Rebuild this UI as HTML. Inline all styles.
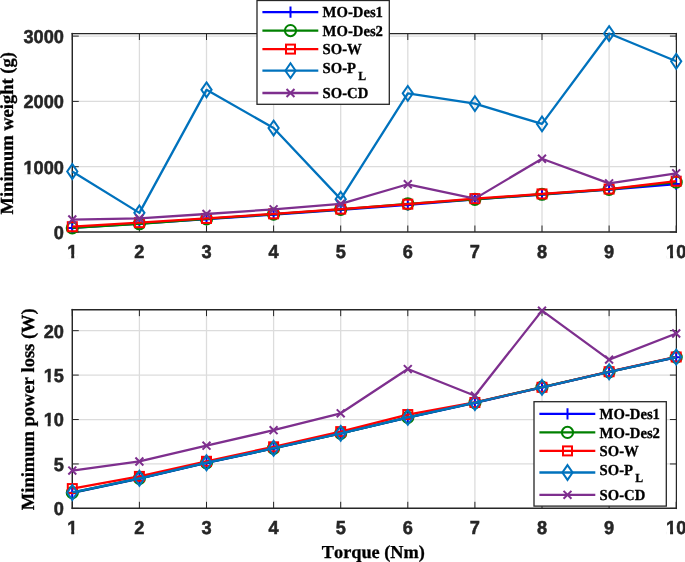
<!DOCTYPE html>
<html><head><meta charset="utf-8"><style>
html,body{margin:0;padding:0;background:#fff;width:685px;height:562px;overflow:hidden}
svg{display:block;text-rendering:geometricPrecision;font-kerning:none;will-change:transform}
.tk{font-family:"Liberation Sans",sans-serif;font-weight:bold;font-size:18.2px;fill:#262626;stroke:#262626;stroke-width:0.5px}
.lg{font-family:"Liberation Serif",serif;font-weight:bold;font-size:14.7px;fill:#000;stroke:#000;stroke-width:0.3px}
.sub{font-size:11.8px}
.al{font-family:"Liberation Serif",serif;font-weight:bold;fill:#000;stroke:#000;stroke-width:0.3px}
</style></head><body>
<svg width="685" height="562" viewBox="0 0 685 562">
<rect width="685" height="562" fill="#fff"/>
<line x1="139.4" y1="33.5" x2="139.4" y2="232.0" stroke="#DCDCDC" stroke-width="1.3"/>
<line x1="206.5" y1="33.5" x2="206.5" y2="232.0" stroke="#DCDCDC" stroke-width="1.3"/>
<line x1="273.6" y1="33.5" x2="273.6" y2="232.0" stroke="#DCDCDC" stroke-width="1.3"/>
<line x1="340.7" y1="33.5" x2="340.7" y2="232.0" stroke="#DCDCDC" stroke-width="1.3"/>
<line x1="407.8" y1="33.5" x2="407.8" y2="232.0" stroke="#DCDCDC" stroke-width="1.3"/>
<line x1="474.9" y1="33.5" x2="474.9" y2="232.0" stroke="#DCDCDC" stroke-width="1.3"/>
<line x1="542" y1="33.5" x2="542" y2="232.0" stroke="#DCDCDC" stroke-width="1.3"/>
<line x1="609.1" y1="33.5" x2="609.1" y2="232.0" stroke="#DCDCDC" stroke-width="1.3"/>
<line x1="72.28" y1="166.7" x2="676.4" y2="166.7" stroke="#DCDCDC" stroke-width="1.3"/>
<line x1="72.28" y1="101.4" x2="676.4" y2="101.4" stroke="#DCDCDC" stroke-width="1.3"/>
<line x1="72.28" y1="36.1" x2="676.4" y2="36.1" stroke="#DCDCDC" stroke-width="1.3"/>
<line x1="72.3" y1="232.0" x2="72.3" y2="225.5" stroke="#262626" stroke-width="1"/>
<line x1="72.3" y1="33.5" x2="72.3" y2="40" stroke="#262626" stroke-width="1"/>
<line x1="139.4" y1="232.0" x2="139.4" y2="225.5" stroke="#262626" stroke-width="1"/>
<line x1="139.4" y1="33.5" x2="139.4" y2="40" stroke="#262626" stroke-width="1"/>
<line x1="206.5" y1="232.0" x2="206.5" y2="225.5" stroke="#262626" stroke-width="1"/>
<line x1="206.5" y1="33.5" x2="206.5" y2="40" stroke="#262626" stroke-width="1"/>
<line x1="273.6" y1="232.0" x2="273.6" y2="225.5" stroke="#262626" stroke-width="1"/>
<line x1="273.6" y1="33.5" x2="273.6" y2="40" stroke="#262626" stroke-width="1"/>
<line x1="340.7" y1="232.0" x2="340.7" y2="225.5" stroke="#262626" stroke-width="1"/>
<line x1="340.7" y1="33.5" x2="340.7" y2="40" stroke="#262626" stroke-width="1"/>
<line x1="407.8" y1="232.0" x2="407.8" y2="225.5" stroke="#262626" stroke-width="1"/>
<line x1="407.8" y1="33.5" x2="407.8" y2="40" stroke="#262626" stroke-width="1"/>
<line x1="474.9" y1="232.0" x2="474.9" y2="225.5" stroke="#262626" stroke-width="1"/>
<line x1="474.9" y1="33.5" x2="474.9" y2="40" stroke="#262626" stroke-width="1"/>
<line x1="542" y1="232.0" x2="542" y2="225.5" stroke="#262626" stroke-width="1"/>
<line x1="542" y1="33.5" x2="542" y2="40" stroke="#262626" stroke-width="1"/>
<line x1="609.1" y1="232.0" x2="609.1" y2="225.5" stroke="#262626" stroke-width="1"/>
<line x1="609.1" y1="33.5" x2="609.1" y2="40" stroke="#262626" stroke-width="1"/>
<line x1="676.2" y1="232.0" x2="676.2" y2="225.5" stroke="#262626" stroke-width="1"/>
<line x1="676.2" y1="33.5" x2="676.2" y2="40" stroke="#262626" stroke-width="1"/>
<line x1="72.28" y1="232" x2="78.78" y2="232" stroke="#262626" stroke-width="1"/>
<line x1="676.4" y1="232" x2="669.9" y2="232" stroke="#262626" stroke-width="1"/>
<line x1="72.28" y1="166.7" x2="78.78" y2="166.7" stroke="#262626" stroke-width="1"/>
<line x1="676.4" y1="166.7" x2="669.9" y2="166.7" stroke="#262626" stroke-width="1"/>
<line x1="72.28" y1="101.4" x2="78.78" y2="101.4" stroke="#262626" stroke-width="1"/>
<line x1="676.4" y1="101.4" x2="669.9" y2="101.4" stroke="#262626" stroke-width="1"/>
<line x1="72.28" y1="36.1" x2="78.78" y2="36.1" stroke="#262626" stroke-width="1"/>
<line x1="676.4" y1="36.1" x2="669.9" y2="36.1" stroke="#262626" stroke-width="1"/>
<path d="M72.28 32.88V232.8" stroke="#262626" stroke-width="1.45" fill="none"/>
<path d="M676.4 32.88V232.8" stroke="#262626" stroke-width="1.25" fill="none"/>
<path d="M71.56 33.5H677.02" stroke="#262626" stroke-width="1.25" fill="none"/>
<path d="M71.56 232.0H677.02" stroke="#262626" stroke-width="1.6" fill="none"/>
<text class="tk" x="63.9" y="0" text-anchor="end" transform="translate(0 238.95) scale(1 1.03)">0</text>
<text class="tk" x="63.9" y="0" text-anchor="end" transform="translate(0 173.65) scale(1 1.03)">1000</text>
<rect x="23.76" y="170.14" width="3.65" height="4.71" fill="#fff"/>
<rect x="30.41" y="170.14" width="3.42" height="4.71" fill="#fff"/>
<text class="tk" x="63.9" y="0" text-anchor="end" transform="translate(0 108.35) scale(1 1.03)">2000</text>
<text class="tk" x="63.9" y="0" text-anchor="end" transform="translate(0 43.05) scale(1 1.03)">3000</text>
<text class="tk" x="72.3" y="0" text-anchor="middle" transform="translate(0 257.7) scale(1 1.03)">1</text>
<rect x="67.59" y="254.19" width="3.65" height="4.71" fill="#fff"/>
<rect x="74.23" y="254.19" width="3.42" height="4.71" fill="#fff"/>
<text class="tk" x="139.4" y="0" text-anchor="middle" transform="translate(0 257.7) scale(1 1.03)">2</text>
<text class="tk" x="206.5" y="0" text-anchor="middle" transform="translate(0 257.7) scale(1 1.03)">3</text>
<text class="tk" x="273.6" y="0" text-anchor="middle" transform="translate(0 257.7) scale(1 1.03)">4</text>
<text class="tk" x="340.7" y="0" text-anchor="middle" transform="translate(0 257.7) scale(1 1.03)">5</text>
<text class="tk" x="407.8" y="0" text-anchor="middle" transform="translate(0 257.7) scale(1 1.03)">6</text>
<text class="tk" x="474.9" y="0" text-anchor="middle" transform="translate(0 257.7) scale(1 1.03)">7</text>
<text class="tk" x="542" y="0" text-anchor="middle" transform="translate(0 257.7) scale(1 1.03)">8</text>
<text class="tk" x="609.1" y="0" text-anchor="middle" transform="translate(0 257.7) scale(1 1.03)">9</text>
<text class="tk" x="676.2" y="0" text-anchor="middle" transform="translate(0 257.7) scale(1 1.03)">10</text>
<rect x="666.42" y="254.19" width="3.65" height="4.71" fill="#fff"/>
<rect x="673.07" y="254.19" width="3.42" height="4.71" fill="#fff"/>
<polyline points="72.3,227.95 139.4,223.64 206.5,219.2 273.6,214.5 340.7,209.73 407.8,204.9 474.9,199.35 542,194.58 609.1,189.49 676.2,184" stroke="#0000FF" stroke-width="2.3" fill="none" stroke-linejoin="round"/>
<path d="M66.6 227.95H78M72.3 222.25V233.65" stroke="#0000FF" stroke-width="2.0" fill="none"/>
<path d="M133.7 223.64H145.1M139.4 217.94V229.34" stroke="#0000FF" stroke-width="2.0" fill="none"/>
<path d="M200.8 219.2H212.2M206.5 213.5V224.9" stroke="#0000FF" stroke-width="2.0" fill="none"/>
<path d="M267.9 214.5H279.3M273.6 208.8V220.2" stroke="#0000FF" stroke-width="2.0" fill="none"/>
<path d="M335 209.73H346.4M340.7 204.03V215.43" stroke="#0000FF" stroke-width="2.0" fill="none"/>
<path d="M402.1 204.9H413.5M407.8 199.2V210.6" stroke="#0000FF" stroke-width="2.0" fill="none"/>
<path d="M469.2 199.35H480.6M474.9 193.65V205.05" stroke="#0000FF" stroke-width="2.0" fill="none"/>
<path d="M536.3 194.58H547.7M542 188.88V200.28" stroke="#0000FF" stroke-width="2.0" fill="none"/>
<path d="M603.4 189.49H614.8M609.1 183.79V195.19" stroke="#0000FF" stroke-width="2.0" fill="none"/>
<path d="M670.5 184H681.9M676.2 178.3V189.7" stroke="#0000FF" stroke-width="2.0" fill="none"/>
<polyline points="72.3,227.95 139.4,223.77 206.5,218.94 273.6,214.17 340.7,209.41 407.8,203.79 474.9,199.35 542,194.26 609.1,189.36 676.2,182.18" stroke="#008000" stroke-width="2.3" fill="none" stroke-linejoin="round"/>
<circle cx="72.3" cy="227.95" r="5.6" stroke="#008000" stroke-width="2.0" fill="none"/>
<circle cx="139.4" cy="223.77" r="5.6" stroke="#008000" stroke-width="2.0" fill="none"/>
<circle cx="206.5" cy="218.94" r="5.6" stroke="#008000" stroke-width="2.0" fill="none"/>
<circle cx="273.6" cy="214.17" r="5.6" stroke="#008000" stroke-width="2.0" fill="none"/>
<circle cx="340.7" cy="209.41" r="5.6" stroke="#008000" stroke-width="2.0" fill="none"/>
<circle cx="407.8" cy="203.79" r="5.6" stroke="#008000" stroke-width="2.0" fill="none"/>
<circle cx="474.9" cy="199.35" r="5.6" stroke="#008000" stroke-width="2.0" fill="none"/>
<circle cx="542" cy="194.26" r="5.6" stroke="#008000" stroke-width="2.0" fill="none"/>
<circle cx="609.1" cy="189.36" r="5.6" stroke="#008000" stroke-width="2.0" fill="none"/>
<circle cx="676.2" cy="182.18" r="5.6" stroke="#008000" stroke-width="2.0" fill="none"/>
<polyline points="72.3,226.71 139.4,222.66 206.5,218.42 273.6,213.85 340.7,209.08 407.8,204.18 474.9,198.63 542,193.93 609.1,189.03 676.2,181.2" stroke="#FF0000" stroke-width="2.3" fill="none" stroke-linejoin="round"/>
<rect x="67.8" y="222.21" width="9.0" height="9.0" stroke="#FF0000" stroke-width="2.0" fill="none"/>
<rect x="134.9" y="218.16" width="9.0" height="9.0" stroke="#FF0000" stroke-width="2.0" fill="none"/>
<rect x="202" y="213.92" width="9.0" height="9.0" stroke="#FF0000" stroke-width="2.0" fill="none"/>
<rect x="269.1" y="209.35" width="9.0" height="9.0" stroke="#FF0000" stroke-width="2.0" fill="none"/>
<rect x="336.2" y="204.58" width="9.0" height="9.0" stroke="#FF0000" stroke-width="2.0" fill="none"/>
<rect x="403.3" y="199.68" width="9.0" height="9.0" stroke="#FF0000" stroke-width="2.0" fill="none"/>
<rect x="470.4" y="194.13" width="9.0" height="9.0" stroke="#FF0000" stroke-width="2.0" fill="none"/>
<rect x="537.5" y="189.43" width="9.0" height="9.0" stroke="#FF0000" stroke-width="2.0" fill="none"/>
<rect x="604.6" y="184.53" width="9.0" height="9.0" stroke="#FF0000" stroke-width="2.0" fill="none"/>
<rect x="671.7" y="176.7" width="9.0" height="9.0" stroke="#FF0000" stroke-width="2.0" fill="none"/>
<polyline points="72.3,171.53 139.4,212.87 206.5,89.84 273.6,128.04 340.7,199.15 407.8,93.37 474.9,103.69 542,123.93 609.1,33.55 676.2,61.31" stroke="#0072BD" stroke-width="2.3" fill="none" stroke-linejoin="round"/>
<path d="M72.3 164.13L77.4 171.53L72.3 178.93L67.2 171.53Z" stroke="#0072BD" stroke-width="2.0" fill="none"/>
<path d="M139.4 205.47L144.5 212.87L139.4 220.27L134.3 212.87Z" stroke="#0072BD" stroke-width="2.0" fill="none"/>
<path d="M206.5 82.44L211.6 89.84L206.5 97.24L201.4 89.84Z" stroke="#0072BD" stroke-width="2.0" fill="none"/>
<path d="M273.6 120.64L278.7 128.04L273.6 135.44L268.5 128.04Z" stroke="#0072BD" stroke-width="2.0" fill="none"/>
<path d="M340.7 191.75L345.8 199.15L340.7 206.55L335.6 199.15Z" stroke="#0072BD" stroke-width="2.0" fill="none"/>
<path d="M407.8 85.97L412.9 93.37L407.8 100.77L402.7 93.37Z" stroke="#0072BD" stroke-width="2.0" fill="none"/>
<path d="M474.9 96.29L480 103.69L474.9 111.09L469.8 103.69Z" stroke="#0072BD" stroke-width="2.0" fill="none"/>
<path d="M542 116.53L547.1 123.93L542 131.33L536.9 123.93Z" stroke="#0072BD" stroke-width="2.0" fill="none"/>
<path d="M609.1 26.15L614.2 33.55L609.1 40.95L604 33.55Z" stroke="#0072BD" stroke-width="2.0" fill="none"/>
<path d="M676.2 53.91L681.3 61.31L676.2 68.71L671.1 61.31Z" stroke="#0072BD" stroke-width="2.0" fill="none"/>
<polyline points="72.3,219.53 139.4,218.42 206.5,213.98 273.6,209.34 340.7,203.79 407.8,184.27 474.9,198.63 542,158.73 609.1,183.35 676.2,173.36" stroke="#7E2F8E" stroke-width="2.3" fill="none" stroke-linejoin="round"/>
<path d="M68.35 215.58L76.25 223.48M68.35 223.48L76.25 215.58" stroke="#7E2F8E" stroke-width="2.0" fill="none"/>
<path d="M135.45 214.47L143.35 222.37M135.45 222.37L143.35 214.47" stroke="#7E2F8E" stroke-width="2.0" fill="none"/>
<path d="M202.55 210.03L210.45 217.93M202.55 217.93L210.45 210.03" stroke="#7E2F8E" stroke-width="2.0" fill="none"/>
<path d="M269.65 205.39L277.55 213.29M269.65 213.29L277.55 205.39" stroke="#7E2F8E" stroke-width="2.0" fill="none"/>
<path d="M336.75 199.84L344.65 207.74M336.75 207.74L344.65 199.84" stroke="#7E2F8E" stroke-width="2.0" fill="none"/>
<path d="M403.85 180.32L411.75 188.22M403.85 188.22L411.75 180.32" stroke="#7E2F8E" stroke-width="2.0" fill="none"/>
<path d="M470.95 194.68L478.85 202.58M470.95 202.58L478.85 194.68" stroke="#7E2F8E" stroke-width="2.0" fill="none"/>
<path d="M538.05 154.78L545.95 162.68M538.05 162.68L545.95 154.78" stroke="#7E2F8E" stroke-width="2.0" fill="none"/>
<path d="M605.15 179.4L613.05 187.3M605.15 187.3L613.05 179.4" stroke="#7E2F8E" stroke-width="2.0" fill="none"/>
<path d="M672.25 169.41L680.15 177.31M672.25 177.31L680.15 169.41" stroke="#7E2F8E" stroke-width="2.0" fill="none"/>
<rect x="257" y="0.5" width="132.3" height="103.8" stroke="#262626" stroke-width="1.3" fill="#fff"/>
<line x1="262.4" y1="12.1" x2="318.3" y2="12.1" stroke="#0000FF" stroke-width="2.3"/>
<path d="M284.8 12.1H296.2M290.5 6.4V17.8" stroke="#0000FF" stroke-width="2.0" fill="none"/>
<text class="lg" x="322.6" y="0" transform="translate(0 17.3) scale(1 1.04)">MO-Des1</text>
<line x1="262.4" y1="30.6" x2="318.3" y2="30.6" stroke="#008000" stroke-width="2.3"/>
<circle cx="290.5" cy="30.6" r="5.6" stroke="#008000" stroke-width="2.0" fill="none"/>
<text class="lg" x="322.6" y="0" transform="translate(0 35.75) scale(1 1.04)">MO-Des2</text>
<line x1="262.4" y1="49.1" x2="318.3" y2="49.1" stroke="#FF0000" stroke-width="2.3"/>
<rect x="286" y="44.6" width="9.0" height="9.0" stroke="#FF0000" stroke-width="2.0" fill="none"/>
<text class="lg" x="322.6" y="0" transform="translate(0 54.45) scale(1 1.04)">SO-W</text>
<line x1="262.4" y1="70.7" x2="318.3" y2="70.7" stroke="#0072BD" stroke-width="2.3"/>
<path d="M290.5 63.3L295.6 70.7L290.5 78.1L285.4 70.7Z" stroke="#0072BD" stroke-width="2.0" fill="none"/>
<text class="lg" x="322.6" y="0" transform="translate(0 73.1) scale(1 1.04)">SO-P<tspan x="358.2" y="6.35" class="sub">L</tspan></text>
<line x1="262.4" y1="93" x2="318.3" y2="93" stroke="#7E2F8E" stroke-width="2.3"/>
<path d="M286.55 89.05L294.45 96.95M286.55 96.95L294.45 89.05" stroke="#7E2F8E" stroke-width="2.0" fill="none"/>
<text class="lg" x="322.6" y="0" transform="translate(0 97.7) scale(1 1.04)">SO-CD</text>
<line x1="139.4" y1="309.65" x2="139.4" y2="508.3" stroke="#DCDCDC" stroke-width="1.3"/>
<line x1="206.5" y1="309.65" x2="206.5" y2="508.3" stroke="#DCDCDC" stroke-width="1.3"/>
<line x1="273.6" y1="309.65" x2="273.6" y2="508.3" stroke="#DCDCDC" stroke-width="1.3"/>
<line x1="340.7" y1="309.65" x2="340.7" y2="508.3" stroke="#DCDCDC" stroke-width="1.3"/>
<line x1="407.8" y1="309.65" x2="407.8" y2="508.3" stroke="#DCDCDC" stroke-width="1.3"/>
<line x1="474.9" y1="309.65" x2="474.9" y2="508.3" stroke="#DCDCDC" stroke-width="1.3"/>
<line x1="542" y1="309.65" x2="542" y2="508.3" stroke="#DCDCDC" stroke-width="1.3"/>
<line x1="609.1" y1="309.65" x2="609.1" y2="508.3" stroke="#DCDCDC" stroke-width="1.3"/>
<line x1="72.28" y1="463.96" x2="676.4" y2="463.96" stroke="#DCDCDC" stroke-width="1.3"/>
<line x1="72.28" y1="419.53" x2="676.4" y2="419.53" stroke="#DCDCDC" stroke-width="1.3"/>
<line x1="72.28" y1="375.09" x2="676.4" y2="375.09" stroke="#DCDCDC" stroke-width="1.3"/>
<line x1="72.28" y1="330.66" x2="676.4" y2="330.66" stroke="#DCDCDC" stroke-width="1.3"/>
<line x1="72.3" y1="508.3" x2="72.3" y2="501.8" stroke="#262626" stroke-width="1"/>
<line x1="72.3" y1="309.65" x2="72.3" y2="316.15" stroke="#262626" stroke-width="1"/>
<line x1="139.4" y1="508.3" x2="139.4" y2="501.8" stroke="#262626" stroke-width="1"/>
<line x1="139.4" y1="309.65" x2="139.4" y2="316.15" stroke="#262626" stroke-width="1"/>
<line x1="206.5" y1="508.3" x2="206.5" y2="501.8" stroke="#262626" stroke-width="1"/>
<line x1="206.5" y1="309.65" x2="206.5" y2="316.15" stroke="#262626" stroke-width="1"/>
<line x1="273.6" y1="508.3" x2="273.6" y2="501.8" stroke="#262626" stroke-width="1"/>
<line x1="273.6" y1="309.65" x2="273.6" y2="316.15" stroke="#262626" stroke-width="1"/>
<line x1="340.7" y1="508.3" x2="340.7" y2="501.8" stroke="#262626" stroke-width="1"/>
<line x1="340.7" y1="309.65" x2="340.7" y2="316.15" stroke="#262626" stroke-width="1"/>
<line x1="407.8" y1="508.3" x2="407.8" y2="501.8" stroke="#262626" stroke-width="1"/>
<line x1="407.8" y1="309.65" x2="407.8" y2="316.15" stroke="#262626" stroke-width="1"/>
<line x1="474.9" y1="508.3" x2="474.9" y2="501.8" stroke="#262626" stroke-width="1"/>
<line x1="474.9" y1="309.65" x2="474.9" y2="316.15" stroke="#262626" stroke-width="1"/>
<line x1="542" y1="508.3" x2="542" y2="501.8" stroke="#262626" stroke-width="1"/>
<line x1="542" y1="309.65" x2="542" y2="316.15" stroke="#262626" stroke-width="1"/>
<line x1="609.1" y1="508.3" x2="609.1" y2="501.8" stroke="#262626" stroke-width="1"/>
<line x1="609.1" y1="309.65" x2="609.1" y2="316.15" stroke="#262626" stroke-width="1"/>
<line x1="676.2" y1="508.3" x2="676.2" y2="501.8" stroke="#262626" stroke-width="1"/>
<line x1="676.2" y1="309.65" x2="676.2" y2="316.15" stroke="#262626" stroke-width="1"/>
<line x1="72.28" y1="508.4" x2="78.78" y2="508.4" stroke="#262626" stroke-width="1"/>
<line x1="676.4" y1="508.4" x2="669.9" y2="508.4" stroke="#262626" stroke-width="1"/>
<line x1="72.28" y1="463.96" x2="78.78" y2="463.96" stroke="#262626" stroke-width="1"/>
<line x1="676.4" y1="463.96" x2="669.9" y2="463.96" stroke="#262626" stroke-width="1"/>
<line x1="72.28" y1="419.53" x2="78.78" y2="419.53" stroke="#262626" stroke-width="1"/>
<line x1="676.4" y1="419.53" x2="669.9" y2="419.53" stroke="#262626" stroke-width="1"/>
<line x1="72.28" y1="375.09" x2="78.78" y2="375.09" stroke="#262626" stroke-width="1"/>
<line x1="676.4" y1="375.09" x2="669.9" y2="375.09" stroke="#262626" stroke-width="1"/>
<line x1="72.28" y1="330.66" x2="78.78" y2="330.66" stroke="#262626" stroke-width="1"/>
<line x1="676.4" y1="330.66" x2="669.9" y2="330.66" stroke="#262626" stroke-width="1"/>
<path d="M72.28 308.9V509.07" stroke="#262626" stroke-width="1.45" fill="none"/>
<path d="M676.4 308.9V509.07" stroke="#262626" stroke-width="1.25" fill="none"/>
<path d="M71.56 309.65H677.02" stroke="#262626" stroke-width="1.5" fill="none"/>
<path d="M71.56 508.3H677.02" stroke="#262626" stroke-width="1.55" fill="none"/>
<text class="tk" x="63.9" y="0" text-anchor="end" transform="translate(0 515.35) scale(1 1.03)">0</text>
<text class="tk" x="63.9" y="0" text-anchor="end" transform="translate(0 470.91) scale(1 1.03)">5</text>
<text class="tk" x="63.9" y="0" text-anchor="end" transform="translate(0 426.48) scale(1 1.03)">10</text>
<rect x="44" y="422.97" width="3.65" height="4.71" fill="#fff"/>
<rect x="50.65" y="422.97" width="3.42" height="4.71" fill="#fff"/>
<text class="tk" x="63.9" y="0" text-anchor="end" transform="translate(0 382.04) scale(1 1.03)">15</text>
<rect x="44" y="378.53" width="3.65" height="4.71" fill="#fff"/>
<rect x="50.65" y="378.53" width="3.42" height="4.71" fill="#fff"/>
<text class="tk" x="63.9" y="0" text-anchor="end" transform="translate(0 337.61) scale(1 1.03)">20</text>
<text class="tk" x="72.3" y="0" text-anchor="middle" transform="translate(0 533.8) scale(1 1.03)">1</text>
<rect x="67.59" y="530.29" width="3.65" height="4.71" fill="#fff"/>
<rect x="74.23" y="530.29" width="3.42" height="4.71" fill="#fff"/>
<text class="tk" x="139.4" y="0" text-anchor="middle" transform="translate(0 533.8) scale(1 1.03)">2</text>
<text class="tk" x="206.5" y="0" text-anchor="middle" transform="translate(0 533.8) scale(1 1.03)">3</text>
<text class="tk" x="273.6" y="0" text-anchor="middle" transform="translate(0 533.8) scale(1 1.03)">4</text>
<text class="tk" x="340.7" y="0" text-anchor="middle" transform="translate(0 533.8) scale(1 1.03)">5</text>
<text class="tk" x="407.8" y="0" text-anchor="middle" transform="translate(0 533.8) scale(1 1.03)">6</text>
<text class="tk" x="474.9" y="0" text-anchor="middle" transform="translate(0 533.8) scale(1 1.03)">7</text>
<text class="tk" x="542" y="0" text-anchor="middle" transform="translate(0 533.8) scale(1 1.03)">8</text>
<text class="tk" x="609.1" y="0" text-anchor="middle" transform="translate(0 533.8) scale(1 1.03)">9</text>
<text class="tk" x="676.2" y="0" text-anchor="middle" transform="translate(0 533.8) scale(1 1.03)">10</text>
<rect x="666.42" y="530.29" width="3.65" height="4.71" fill="#fff"/>
<rect x="673.07" y="530.29" width="3.42" height="4.71" fill="#fff"/>
<polyline points="72.3,492.85 139.4,478.54 206.5,462.9 273.6,448.41 340.7,433.48 407.8,417.57 474.9,402.82 542,387.36 609.1,371.98 676.2,357.32" stroke="#0000FF" stroke-width="2.3" fill="none" stroke-linejoin="round"/>
<path d="M66.6 492.85H78M72.3 487.15V498.55" stroke="#0000FF" stroke-width="2.0" fill="none"/>
<path d="M133.7 478.54H145.1M139.4 472.84V484.24" stroke="#0000FF" stroke-width="2.0" fill="none"/>
<path d="M200.8 462.9H212.2M206.5 457.2V468.6" stroke="#0000FF" stroke-width="2.0" fill="none"/>
<path d="M267.9 448.41H279.3M273.6 442.71V454.11" stroke="#0000FF" stroke-width="2.0" fill="none"/>
<path d="M335 433.48H346.4M340.7 427.78V439.18" stroke="#0000FF" stroke-width="2.0" fill="none"/>
<path d="M402.1 417.57H413.5M407.8 411.87V423.27" stroke="#0000FF" stroke-width="2.0" fill="none"/>
<path d="M469.2 402.82H480.6M474.9 397.12V408.52" stroke="#0000FF" stroke-width="2.0" fill="none"/>
<path d="M536.3 387.36H547.7M542 381.66V393.06" stroke="#0000FF" stroke-width="2.0" fill="none"/>
<path d="M603.4 371.98H614.8M609.1 366.28V377.68" stroke="#0000FF" stroke-width="2.0" fill="none"/>
<path d="M670.5 357.32H681.9M676.2 351.62V363.02" stroke="#0000FF" stroke-width="2.0" fill="none"/>
<polyline points="72.3,492.67 139.4,478.36 206.5,462.72 273.6,448.24 340.7,433.3 407.8,417.4 474.9,402.64 542,387.09 609.1,371.81 676.2,357.14" stroke="#008000" stroke-width="2.3" fill="none" stroke-linejoin="round"/>
<circle cx="72.3" cy="492.67" r="5.6" stroke="#008000" stroke-width="2.0" fill="none"/>
<circle cx="139.4" cy="478.36" r="5.6" stroke="#008000" stroke-width="2.0" fill="none"/>
<circle cx="206.5" cy="462.72" r="5.6" stroke="#008000" stroke-width="2.0" fill="none"/>
<circle cx="273.6" cy="448.24" r="5.6" stroke="#008000" stroke-width="2.0" fill="none"/>
<circle cx="340.7" cy="433.3" r="5.6" stroke="#008000" stroke-width="2.0" fill="none"/>
<circle cx="407.8" cy="417.4" r="5.6" stroke="#008000" stroke-width="2.0" fill="none"/>
<circle cx="474.9" cy="402.64" r="5.6" stroke="#008000" stroke-width="2.0" fill="none"/>
<circle cx="542" cy="387.09" r="5.6" stroke="#008000" stroke-width="2.0" fill="none"/>
<circle cx="609.1" cy="371.81" r="5.6" stroke="#008000" stroke-width="2.0" fill="none"/>
<circle cx="676.2" cy="357.14" r="5.6" stroke="#008000" stroke-width="2.0" fill="none"/>
<polyline points="72.3,488.58 139.4,476.41 206.5,461.3 273.6,446.81 340.7,431.62 407.8,414.55 474.9,402.47 542,387.27 609.1,371.72 676.2,356.97" stroke="#FF0000" stroke-width="2.3" fill="none" stroke-linejoin="round"/>
<rect x="67.8" y="484.08" width="9.0" height="9.0" stroke="#FF0000" stroke-width="2.0" fill="none"/>
<rect x="134.9" y="471.91" width="9.0" height="9.0" stroke="#FF0000" stroke-width="2.0" fill="none"/>
<rect x="202" y="456.8" width="9.0" height="9.0" stroke="#FF0000" stroke-width="2.0" fill="none"/>
<rect x="269.1" y="442.31" width="9.0" height="9.0" stroke="#FF0000" stroke-width="2.0" fill="none"/>
<rect x="336.2" y="427.12" width="9.0" height="9.0" stroke="#FF0000" stroke-width="2.0" fill="none"/>
<rect x="403.3" y="410.05" width="9.0" height="9.0" stroke="#FF0000" stroke-width="2.0" fill="none"/>
<rect x="470.4" y="397.97" width="9.0" height="9.0" stroke="#FF0000" stroke-width="2.0" fill="none"/>
<rect x="537.5" y="382.77" width="9.0" height="9.0" stroke="#FF0000" stroke-width="2.0" fill="none"/>
<rect x="604.6" y="367.22" width="9.0" height="9.0" stroke="#FF0000" stroke-width="2.0" fill="none"/>
<rect x="671.7" y="352.47" width="9.0" height="9.0" stroke="#FF0000" stroke-width="2.0" fill="none"/>
<polyline points="72.3,492.49 139.4,478.27 206.5,462.72 273.6,448.24 340.7,433.3 407.8,417.4 474.9,402.64 542,387.36 609.1,371.81 676.2,357.05" stroke="#0072BD" stroke-width="2.3" fill="none" stroke-linejoin="round"/>
<path d="M72.3 485.09L77.4 492.49L72.3 499.89L67.2 492.49Z" stroke="#0072BD" stroke-width="2.0" fill="none"/>
<path d="M139.4 470.87L144.5 478.27L139.4 485.67L134.3 478.27Z" stroke="#0072BD" stroke-width="2.0" fill="none"/>
<path d="M206.5 455.32L211.6 462.72L206.5 470.12L201.4 462.72Z" stroke="#0072BD" stroke-width="2.0" fill="none"/>
<path d="M273.6 440.84L278.7 448.24L273.6 455.64L268.5 448.24Z" stroke="#0072BD" stroke-width="2.0" fill="none"/>
<path d="M340.7 425.9L345.8 433.3L340.7 440.7L335.6 433.3Z" stroke="#0072BD" stroke-width="2.0" fill="none"/>
<path d="M407.8 410L412.9 417.4L407.8 424.8L402.7 417.4Z" stroke="#0072BD" stroke-width="2.0" fill="none"/>
<path d="M474.9 395.24L480 402.64L474.9 410.04L469.8 402.64Z" stroke="#0072BD" stroke-width="2.0" fill="none"/>
<path d="M542 379.96L547.1 387.36L542 394.76L536.9 387.36Z" stroke="#0072BD" stroke-width="2.0" fill="none"/>
<path d="M609.1 364.41L614.2 371.81L609.1 379.21L604 371.81Z" stroke="#0072BD" stroke-width="2.0" fill="none"/>
<path d="M676.2 349.65L681.3 357.05L676.2 364.45L671.1 357.05Z" stroke="#0072BD" stroke-width="2.0" fill="none"/>
<polyline points="72.3,470.54 139.4,461.48 206.5,445.66 273.6,430.19 340.7,413.31 407.8,369.05 474.9,395.71 542,310.66 609.1,359.63 676.2,333.5" stroke="#7E2F8E" stroke-width="2.3" fill="none" stroke-linejoin="round"/>
<path d="M68.35 466.59L76.25 474.49M68.35 474.49L76.25 466.59" stroke="#7E2F8E" stroke-width="2.0" fill="none"/>
<path d="M135.45 457.53L143.35 465.43M135.45 465.43L143.35 457.53" stroke="#7E2F8E" stroke-width="2.0" fill="none"/>
<path d="M202.55 441.71L210.45 449.61M202.55 449.61L210.45 441.71" stroke="#7E2F8E" stroke-width="2.0" fill="none"/>
<path d="M269.65 426.24L277.55 434.14M269.65 434.14L277.55 426.24" stroke="#7E2F8E" stroke-width="2.0" fill="none"/>
<path d="M336.75 409.36L344.65 417.26M336.75 417.26L344.65 409.36" stroke="#7E2F8E" stroke-width="2.0" fill="none"/>
<path d="M403.85 365.1L411.75 373M403.85 373L411.75 365.1" stroke="#7E2F8E" stroke-width="2.0" fill="none"/>
<path d="M470.95 391.76L478.85 399.66M470.95 399.66L478.85 391.76" stroke="#7E2F8E" stroke-width="2.0" fill="none"/>
<path d="M538.05 306.71L545.95 314.61M538.05 314.61L545.95 306.71" stroke="#7E2F8E" stroke-width="2.0" fill="none"/>
<path d="M605.15 355.68L613.05 363.58M605.15 363.58L613.05 355.68" stroke="#7E2F8E" stroke-width="2.0" fill="none"/>
<path d="M672.25 329.55L680.15 337.45M672.25 337.45L680.15 329.55" stroke="#7E2F8E" stroke-width="2.0" fill="none"/>
<rect x="534" y="401.7" width="132.3" height="104.4" stroke="#262626" stroke-width="1.3" fill="#fff"/>
<line x1="539.4" y1="413.9" x2="595.3" y2="413.9" stroke="#0000FF" stroke-width="2.3"/>
<path d="M561.8 413.9H573.2M567.5 408.2V419.6" stroke="#0000FF" stroke-width="2.0" fill="none"/>
<text class="lg" x="599.6" y="0" transform="translate(0 419.1) scale(1 1.04)">MO-Des1</text>
<line x1="539.4" y1="432.4" x2="595.3" y2="432.4" stroke="#008000" stroke-width="2.3"/>
<circle cx="567.5" cy="432.4" r="5.6" stroke="#008000" stroke-width="2.0" fill="none"/>
<text class="lg" x="599.6" y="0" transform="translate(0 437.55) scale(1 1.04)">MO-Des2</text>
<line x1="539.4" y1="450.9" x2="595.3" y2="450.9" stroke="#FF0000" stroke-width="2.3"/>
<rect x="563" y="446.4" width="9.0" height="9.0" stroke="#FF0000" stroke-width="2.0" fill="none"/>
<text class="lg" x="599.6" y="0" transform="translate(0 456.25) scale(1 1.04)">SO-W</text>
<line x1="539.4" y1="472.5" x2="595.3" y2="472.5" stroke="#0072BD" stroke-width="2.3"/>
<path d="M567.5 465.1L572.6 472.5L567.5 479.9L562.4 472.5Z" stroke="#0072BD" stroke-width="2.0" fill="none"/>
<text class="lg" x="599.6" y="0" transform="translate(0 474.9) scale(1 1.04)">SO-P<tspan x="635.2" y="6.35" class="sub">L</tspan></text>
<line x1="539.4" y1="494.8" x2="595.3" y2="494.8" stroke="#7E2F8E" stroke-width="2.3"/>
<path d="M563.55 490.85L571.45 498.75M563.55 498.75L571.45 490.85" stroke="#7E2F8E" stroke-width="2.0" fill="none"/>
<text class="lg" x="599.6" y="0" transform="translate(0 499.5) scale(1 1.04)">SO-CD</text>
<text class="al" style="font-size:18.5px" transform="translate(12.9 214.5) rotate(-90)">Minimum weight (g)</text>
<text class="al" style="font-size:18.5px" transform="translate(33.6 510.2) rotate(-90)">Minimum power loss (W)</text>
<text class="al" style="font-size:18.3px" x="321.8" y="558.3">Torque (Nm)</text>
</svg>
</body></html>
